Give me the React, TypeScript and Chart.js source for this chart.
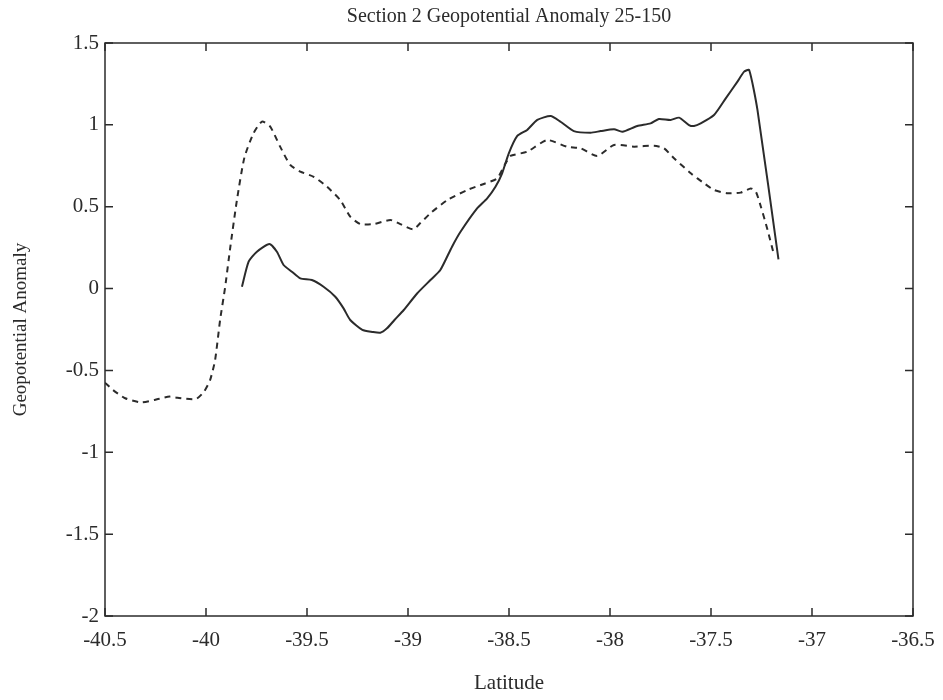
import React, { useEffect, useRef } from 'react';
import { Chart, registerables } from 'chart.js';
Chart.register(...registerables);

const titleText = 'Section 2 Geopotential Anomaly 25-150';
const xLabel = 'Latitude';
const yLabel = 'Geopotential Anomaly';

const dashLat = [-40.5, -40.46, -40.4, -40.32, -40.23, -40.18, -40.14, -40.05, -40.01, -39.98, -39.955, -39.93, -39.905, -39.88, -39.847, -39.81, -39.765, -39.723, -39.682, -39.633, -39.583, -39.533, -39.467, -39.401, -39.335, -39.286, -39.236, -39.17, -39.087, -39.038, -38.975, -38.939, -38.889, -38.806, -38.707, -38.625, -38.559, -38.517, -38.493, -38.41, -38.311, -38.212, -38.146, -38.063, -37.98, -37.881, -37.782, -37.733, -37.683, -37.6, -37.534, -37.485, -37.418, -37.353, -37.303, -37.278, -37.253, -37.22, -37.187];
const dashVal = [-0.575, -0.62, -0.67, -0.695, -0.673, -0.66, -0.667, -0.675, -0.63, -0.56, -0.437, -0.19, 0.011, 0.25, 0.54, 0.8, 0.948, 1.02, 0.989, 0.867, 0.755, 0.714, 0.683, 0.622, 0.54, 0.439, 0.394, 0.394, 0.419, 0.394, 0.362, 0.4, 0.46, 0.54, 0.602, 0.639, 0.673, 0.765, 0.81, 0.836, 0.907, 0.866, 0.857, 0.81, 0.877, 0.867, 0.873, 0.857, 0.796, 0.704, 0.643, 0.602, 0.582, 0.586, 0.612, 0.592, 0.5, 0.358, 0.2];

const solidLat = [-39.822, -39.789, -39.748, -39.686, -39.649, -39.616, -39.575, -39.533, -39.476, -39.418, -39.36, -39.319, -39.286, -39.226, -39.177, -39.137, -39.104, -39.067, -39.021, -38.955, -38.889, -38.84, -38.782, -38.74, -38.658, -38.608, -38.567, -38.534, -38.501, -38.459, -38.41, -38.36, -38.294, -38.245, -38.179, -38.096, -38.046, -37.98, -37.939, -37.865, -37.799, -37.758, -37.7, -37.658, -37.609, -37.584, -37.551, -37.485, -37.427, -37.369, -37.336, -37.311, -37.27, -37.166];
const solidVal = [0.011, 0.164, 0.225, 0.272, 0.225, 0.144, 0.103, 0.062, 0.052, 0.011, -0.05, -0.121, -0.192, -0.253, -0.265, -0.27, -0.243, -0.192, -0.131, -0.03, 0.052, 0.113, 0.256, 0.347, 0.49, 0.551, 0.622, 0.704, 0.826, 0.932, 0.969, 1.03, 1.054, 1.019, 0.962, 0.952, 0.962, 0.973, 0.958, 0.993, 1.009, 1.036, 1.03, 1.044, 0.999, 0.993, 1.009, 1.06, 1.162, 1.264, 1.325, 1.335, 1.091, 0.179];

const xMin = -40.5;
const xMax = -36.5;
const xStep = 0.5;
const yMin = -2;
const yMax = 1.5;
const yStep = 0.5;

const INK = '#2b2b2b';
const FONT = 'Liberation Serif, Times New Roman, serif';

const fmt = (v: number) => String(Number(Number(v).toFixed(2)));

const boxTicks = {
  id: 'boxTicks',
  beforeDraw(chart: any) {
    const { ctx } = chart;
    ctx.save();
    ctx.fillStyle = '#ffffff';
    ctx.fillRect(0, 0, chart.width, chart.height);
    ctx.restore();
  },
  afterDatasetsDraw(chart: any) {
    const { ctx, chartArea: a, scales } = chart;
    ctx.save();
    ctx.strokeStyle = INK;
    ctx.lineWidth = 1.5;
    ctx.strokeRect(a.left, a.top, a.right - a.left, a.bottom - a.top);
    const L = 8;
    ctx.beginPath();
    scales.x.ticks.forEach((t: any) => {
      const px = scales.x.getPixelForValue(t.value);
      ctx.moveTo(px, a.bottom);
      ctx.lineTo(px, a.bottom - L);
      ctx.moveTo(px, a.top);
      ctx.lineTo(px, a.top + L);
    });
    scales.y.ticks.forEach((t: any) => {
      const py = scales.y.getPixelForValue(t.value);
      ctx.moveTo(a.left, py);
      ctx.lineTo(a.left + L, py);
      ctx.moveTo(a.right, py);
      ctx.lineTo(a.right - L, py);
    });
    ctx.stroke();
    ctx.restore();
  },
};

export default function App() {
  const ref = useRef<HTMLCanvasElement | null>(null);
  useEffect(() => {
    if (!ref.current) return;
    const chart = new Chart(ref.current, {
      type: 'line',
      data: {
        datasets: [
          {
            label: 'dashed',
            data: dashLat.map((x, i) => ({ x, y: dashVal[i] })),
            borderColor: INK,
            borderWidth: 2,
            borderDash: [6, 5],
            pointRadius: 0,
            tension: 0.2,
            fill: false,
          },
          {
            label: 'solid',
            data: solidLat.map((x, i) => ({ x, y: solidVal[i] })),
            borderColor: INK,
            borderWidth: 2,
            pointRadius: 0,
            tension: 0.2,
            fill: false,
          },
        ],
      },
      options: {
        animation: false,
        responsive: false,
        layout: { padding: { top: 0, right: 30, bottom: 0, left: 0 } },
        plugins: {
          legend: { display: false },
          tooltip: { enabled: false },
          title: {
            display: true,
            text: titleText,
            fullSize: false,
            color: INK,
            font: { family: FONT, size: 20, weight: 'normal' },
            padding: { top: 5, bottom: 14 },
          },
        },
        scales: {
          x: {
            type: 'linear',
            min: xMin,
            max: xMax,
            grid: { display: false, drawTicks: false },
            border: { display: false },
            ticks: {
              stepSize: xStep,
              autoSkip: false,
              maxRotation: 0,
              padding: 12,
              color: INK,
              font: { family: FONT, size: 21 },
              callback: (v: any) => fmt(v),
            },
            title: {
              display: true,
              text: xLabel,
              color: INK,
              font: { family: FONT, size: 21 },
              padding: { top: 0, bottom: 4 },
            },
            afterFit: (s: any) => {
              s.height = 84;
              s.paddingRight = 0;
              s.paddingLeft = 0;
            },
          },
          y: {
            type: 'linear',
            min: yMin,
            max: yMax,
            grid: { display: false, drawTicks: false },
            border: { display: false },
            ticks: {
              stepSize: yStep,
              autoSkip: false,
              padding: 6,
              color: INK,
              font: { family: FONT, size: 21 },
              callback: (v: any) => fmt(v),
            },
            title: {
              display: true,
              text: yLabel,
              color: INK,
              font: { family: FONT, size: 19 },
              padding: { top: 10, bottom: 0 },
            },
            afterFit: (s: any) => {
              s.width = 105;
            },
          },
        },
      },
      plugins: [boxTicks],
    } as any);
    return () => chart.destroy();
  }, []);
  return (
    <div style={{ position: 'fixed', left: 0, top: 0, width: 943, height: 700, background: '#fff' }}>
      <canvas ref={ref} width={943} height={700} />
    </div>
  );
}
